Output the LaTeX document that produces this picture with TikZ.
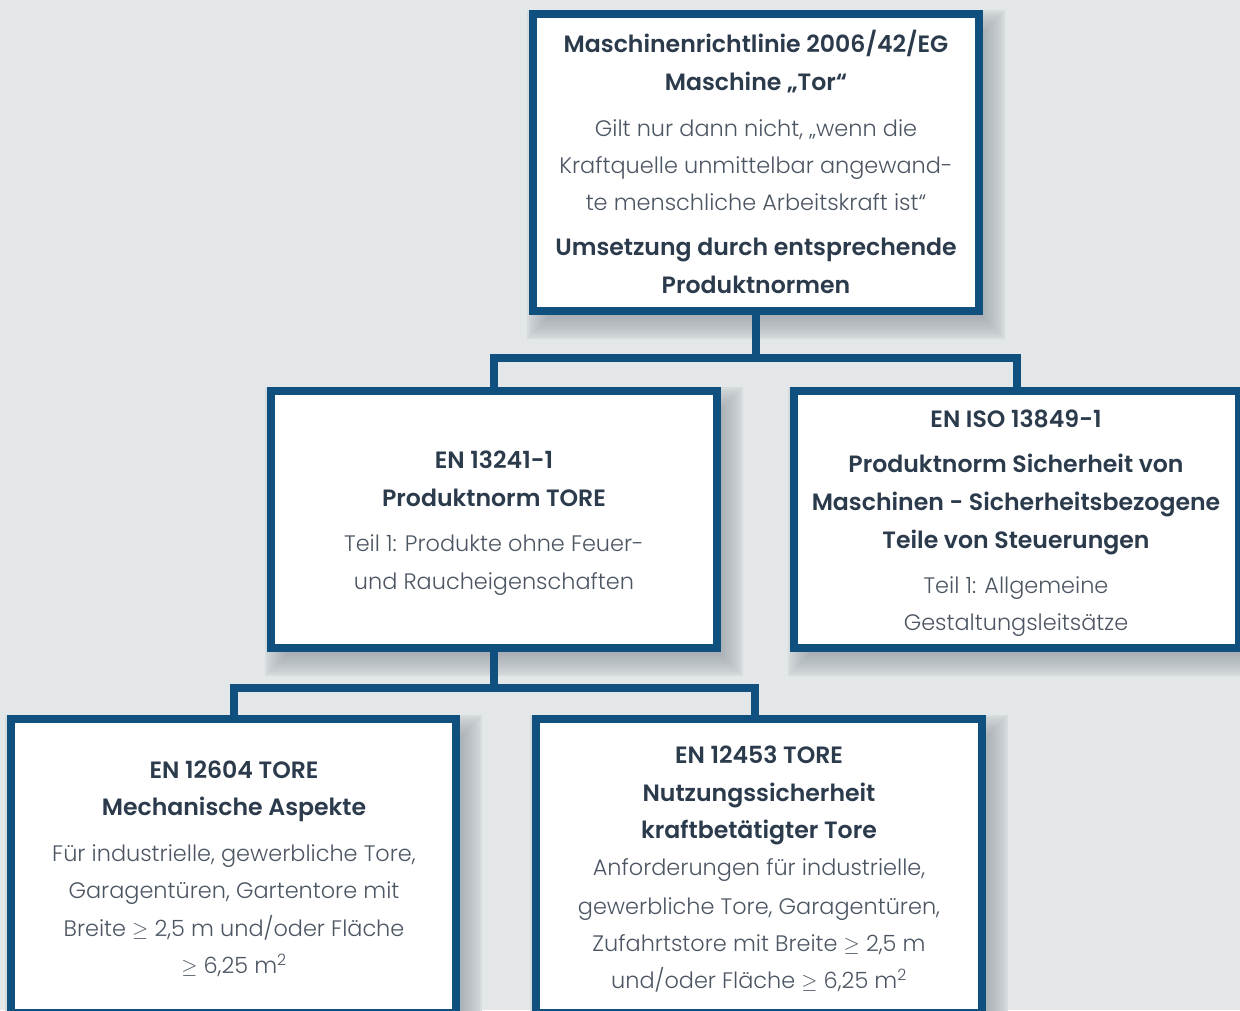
\documentclass[tikz,border=0pt]{standalone}
\usepackage{fontspec}
\setmainfont{Poppins}[UprightFont=* Light, BoldFont=* SemiBold]
\definecolor{bg}{HTML}{E3E7E9}
\definecolor{shgray}{HTML}{A4ABB0}
\definecolor{nblue}{HTML}{10507F}
\definecolor{tdark}{HTML}{2B3B4C}
\definecolor{tlight}{HTML}{4C5663}
\pgfdeclarelayer{shadowlayer}
\pgfsetlayers{shadowlayer,main}
\tikzset{
  normbox/.style={draw=nblue, line width=8pt, fill=white, rectangle, outer sep=0pt, inner sep=0pt},
  link/.style={draw=nblue, line width=8pt, line join=miter},
  bt/.style={anchor=base, inner sep=0pt, text=tdark, font=\fontsize{23.6}{28}\selectfont\bfseries},
  lt/.style={anchor=base, inner sep=0pt, text=tlight, font=\fontsize{22.4}{27}\selectfont},
}
\newcommand{\geqs}{\(\geq\)}
\newcommand{\boxshadow}[1]{%
  \foreach \i [evaluate=\i as \e using 16-2*\i, evaluate=\i as \p using 100*((\i+1)/14)^0.6] in {0,...,13}{%
    \fill[shgray!\p!bg] ([shift={(10-\e,12-\e)}]#1.north west) rectangle ([shift={(10+\e,12+\e)}]#1.south east);}}
\begin{document}
\begin{tikzpicture}[x=1pt,y=-1pt]
\useasboundingbox (0,0) rectangle (1240,1010);
\begin{pgfonlayer}{shadowlayer}
\fill[bg] (0,0) rectangle (1240,1010);
\end{pgfonlayer}
\clip (0,0) rectangle (1240,1010);
% boxes
\node[normbox, minimum width=446pt, minimum height=297pt] (top) at (756,162.5) {};
\node[normbox, minimum width=445.5pt, minimum height=256.5pt] (ml) at (494,519.25) {};
\node[normbox, minimum width=445pt, minimum height=256.5pt] (mr) at (1016.5,519.25) {};
\node[normbox, minimum width=445pt, minimum height=294pt] (bl) at (233.5,866) {};
\node[normbox, minimum width=446pt, minimum height=294pt] (br) at (759,866) {};
% shadows
\begin{pgfonlayer}{shadowlayer}
\boxshadow{top}
\boxshadow{ml}
\boxshadow{mr}
\boxshadow{bl}
\boxshadow{br}
\end{pgfonlayer}
% connectors
\coordinate (b1) at (756,358);
\coordinate (b2) at (494,687.5);
\draw[link] (top.south) -- (b1);
\draw[link] (ml.north) |- (b1) -| (mr.north);
\draw[link] (ml.south) -- (b2);
\draw[link] (bl.north) |- (b2) -| ([xshift=-4pt]br.north);
% top box text
\node[bt] (t1) at (756,52) {Maschinenrichtlinie 2006/42/EG};
\node[bt] (t2) at (756,90) {Maschine „Tor“};
\node[lt] (t3) at (756,136) {Gilt nur dann nicht, „wenn die};
\node[lt] (t4) at (756,173) {Kraftquelle unmittelbar angewand-};
\node[lt] (t5) at (756,210) {te menschliche Arbeitskraft ist“};
\node[bt] (t6) at (756,255) {Umsetzung durch entsprechende};
\node[bt] (t7) at (756,293) {Produktnormen};
% middle left
\node[bt] (l1) at (494,468) {EN 13241-1};
\node[bt] (l2) at (494,506) {Produktnorm TORE};
\node[lt] (l3) at (494,551) {Teil 1: Produkte ohne Feuer-};
\node[lt] (l4) at (494,589) {und Raucheigenschaften};
% middle right
\node[bt] (r1) at (1016,427) {EN ISO 13849-1};
\node[bt] (r2) at (1016,472) {Produktnorm Sicherheit von};
\node[bt] (r3) at (1016,510) {Maschinen - Sicherheitsbezogene};
\node[bt] (r4) at (1016,548) {Teile von Steuerungen};
\node[lt] (r5) at (1016,593) {Teil 1: Allgemeine};
\node[lt] (r6) at (1016,630) {Gestaltungsleitsätze};
% bottom left
\node[bt] (a1) at (234,778) {EN 12604 TORE};
\node[bt] (a2) at (234,815) {Mechanische Aspekte};
\node[lt] (a3) at (234,861) {Für industrielle, gewerbliche Tore,};
\node[lt] (a4) at (234,898) {Garagentüren, Gartentore mit};
\node[lt] (a5) at (234,936) {Breite \geqs{} 2,5 m und/oder Fläche};
\node[lt] (a6) at (234,973) {\geqs{} 6,25 m\textsuperscript{2}};
% bottom right
\node[bt] (c1) at (759,763) {EN 12453 TORE};
\node[bt] (c2) at (759,801) {Nutzungssicherheit};
\node[bt] (c3) at (759,838) {kraftbetätigter Tore};
\node[lt] (c4) at (759,875) {Anforderungen für industrielle,};
\node[lt] (c5) at (759,914) {gewerbliche Tore, Garagentüren,};
\node[lt] (c6) at (759,951) {Zufahrtstore mit Breite \geqs{} 2,5 m};
\node[lt] (c7) at (759,988) {und/oder Fläche \geqs{} 6,25 m\textsuperscript{2}};
\end{tikzpicture}
\end{document}
